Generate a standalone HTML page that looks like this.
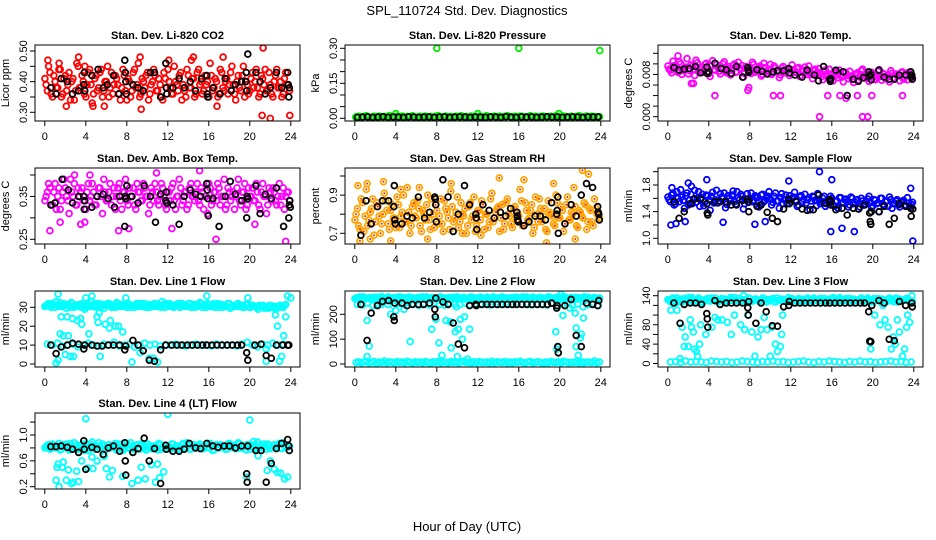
<!DOCTYPE html>
<html><head><meta charset="utf-8"><title>SPL_110724 Std. Dev. Diagnostics</title>
<style>
html,body{margin:0;padding:0;background:#fff;}
svg{display:block;font-family:"Liberation Sans",Arial,sans-serif;}
</style></head>
<body>
<svg id="chart" width="936" height="540" viewBox="0 0 936 540" xmlns="http://www.w3.org/2000/svg">
<text x="467" y="15" font-size="13" text-anchor="middle">SPL_110724  Std. Dev. Diagnostics</text>
<text x="467" y="531" font-size="13" text-anchor="middle">Hour of Day (UTC)</text>
</svg>
<script>
// ---------- data ----------
const xTicks = [0,4,8,12,16,20,24];
const panelTitles = ["Stan. Dev. Li-820 CO2","Stan. Dev. Li-820 Pressure","Stan. Dev. Li-820 Temp.","Stan. Dev. Amb. Box Temp.","Stan. Dev. Gas Stream RH","Stan. Dev. Sample Flow","Stan. Dev. Line 1 Flow","Stan. Dev. Line 2 Flow","Stan. Dev. Line 3 Flow","Stan. Dev. Line 4 (LT) Flow"];
const yTitles = ["Licor ppm","kPa","degrees C","degrees C","percent","ml/min","ml/min","ml/min","ml/min","ml/min"];

const co2Vals = [0.39,0.45,0.36,0.42,0.38,0.44,0.35,0.41,0.37,0.43,0.40,0.34,0.46,0.38,0.42,0.36,0.39,0.44,0.33,0.41,0.37,0.43,0.35,0.40,0.45,0.38,0.36,0.42,0.39,0.34,0.44,0.37,0.41,0.35,0.43,0.38,0.46,0.36,0.40,0.42,0.34,0.39,0.44,0.37,0.41,0.35,0.43,0.38,0.40,0.36,0.45,0.39,0.42,0.34,0.37,0.44,0.38,0.41,0.35,0.43,0.39,0.36,0.42,0.40,0.46,0.37,0.41,0.35,0.44,0.38,0.40,0.36,0.43,0.39,0.34,0.42,0.37,0.45,0.40,0.36,0.41,0.38,0.44,0.35,0.42,0.39,0.37,0.43,0.36,0.40,0.44,0.38,0.35,0.41,0.39,0.37];
const co2Vals2 = [0.41,0.37,0.43,0.35,0.40,0.38,0.44,0.36,0.42,0.39,0.34,0.41,0.37,0.45,0.38,0.40,0.35,0.43,0.39,0.36,0.42,0.38,0.44,0.37,0.40,0.35,0.43,0.39,0.41,0.36,0.38,0.42,0.34,0.40,0.37,0.44,0.39,0.35,0.41,0.38,0.43,0.36,0.40,0.42,0.37,0.39,0.34,0.41,0.44,0.38,0.36,0.40,0.37,0.43,0.39,0.35,0.42,0.38,0.41,0.36,0.44,0.40,0.37,0.39,0.35,0.42,0.38,0.40,0.36,0.43,0.37,0.41,0.39,0.45,0.36,0.40,0.38,0.42,0.35,0.39,0.37,0.43,0.40,0.38,0.36,0.41,0.44,0.37,0.39,0.35,0.42,0.38,0.40,0.36,0.43,0.39];
const co2OutT = [0.3,1.4,3.3,4.7,5.8,9.3,9.4,14.5,14.3,16.8,17.4,21.3,21.2,22.0,23.9,12.1,3.9,2.1];
const co2OutV = [0.47,0.46,0.48,0.32,0.32,0.48,0.31,0.48,0.47,0.32,0.48,0.51,0.29,0.28,0.29,0.47,0.45,0.32];
const co2BlkT = [0.6,1.1,1.6,2.2,2.7,3.3,3.8,3.85,3.9,4.6,5.2,5.7,6.1,6.7,7.2,7.8,7.85,7.9,7.95,8.6,9.1,9.6,10.3,10.7,11.3,11.8,11.85,11.9,12.5,13.1,13.6,14.2,14.7,15.3,15.8,15.85,15.9,16.4,17.1,17.6,18.2,18.6,19.2,19.6,19.65,19.7,19.8,20.6,21.0,21.5,22.0,22.6,23.1,23.7,23.75,23.8,23.85];
const co2BlkV = [0.38,0.36,0.41,0.40,0.36,0.37,0.39,0.43,0.37,0.42,0.44,0.38,0.39,0.42,0.36,0.47,0.43,0.40,0.36,0.39,0.38,0.37,0.43,0.43,0.35,0.46,0.38,0.36,0.38,0.41,0.38,0.40,0.37,0.41,0.42,0.36,0.35,0.38,0.36,0.41,0.37,0.39,0.40,0.40,0.43,0.37,0.49,0.43,0.40,0.36,0.38,0.43,0.38,0.43,0.39,0.35,0.38];

const presVals = [0.006,0.009,0.005,0.008,0.011,0.006,0.004,0.009,0.007,0.01,0.005,0.008,0.006,0.012,0.007,0.005,0.009,0.006,0.01,0.004,0.008,0.007,0.011,0.005,0.006,0.009,0.007,0.01,0.005,0.008,0.006,0.009,0.012,0.005,0.007,0.01,0.006,0.008,0.005,0.009,0.007,0.011,0.006,0.008,0.005,0.01,0.007,0.006,0.009,0.005,0.008,0.011,0.006,0.007,0.01,0.005,0.009,0.006,0.008,0.012,0.007,0.005,0.009,0.006,0.01,0.008,0.005,0.007,0.011,0.006,0.009,0.005,0.008,0.01,0.006,0.007,0.009,0.005,0.011,0.008,0.006,0.01,0.007,0.005,0.009,0.006,0.008,0.011,0.005,0.007,0.01,0.006,0.009,0.008,0.005,0.007];
const presOutT = [8.0,16.0,23.9,4.0,12.0,19.9,0.1];
const presOutV = [0.30,0.30,0.29,0.02,0.02,0.02,0.005];
const presBlkV = [0.004,0.005,0.006,0.004,0.005,0.007,0.004,0.006,0.005,0.004,0.006,0.005,0.004,0.005,0.006,0.004,0.005,0.006,0.004,0.005,0.006,0.005,0.004,0.006,0.005,0.004,0.006,0.005,0.004,0.007,0.005,0.004,0.006,0.005,0.006,0.004,0.005,0.007,0.005,0.006,0.004,0.005,0.006,0.005,0.004,0.006,0.005,0.006];

const tempVals = [0.0090,0.0083,0.0097,0.0086,0.0104,0.0080,0.0093,0.0110,0.0087,0.0095,0.0078,0.0102,0.0089,0.0084,0.0099,0.0092,0.0076,0.0106,0.0088,0.0094,0.0081,0.0100,0.0086,0.0091,0.0079,0.0097,0.0084,0.0103,0.0090,0.0075,0.0095,0.0087,0.0082,0.0099,0.0088,0.0093,0.0077,0.0101,0.0085,0.0090,0.0080,0.0096,0.0087,0.0074,0.0092,0.0083,0.0089,0.0078,0.0098,0.0084,0.0091,0.0076,0.0087,0.0094,0.0080,0.0085,0.0072,0.0090,0.0079,0.0083,0.0070,0.0088,0.0076,0.0081,0.0068,0.0085,0.0074,0.0079,0.0066,0.0083,0.0072,0.0077,0.0065,0.0081,0.0070,0.0087,0.0073,0.0078,0.0067,0.0084,0.0071,0.0076,0.0089,0.0069,0.0080,0.0074,0.0066,0.0082,0.0072,0.0078,0.0068,0.0085,0.0075,0.0070,0.0080,0.0073];
const tempVals2 = [0.0096,0.0088,0.0105,0.0091,0.0084,0.0100,0.0087,0.0094,0.0081,0.0098,0.0090,0.0107,0.0085,0.0093,0.0088,0.0101,0.0082,0.0096,0.0089,0.0099,0.0086,0.0092,0.0104,0.0083,0.0095,0.0088,0.0100,0.0085,0.0092,0.0097,0.0082,0.0090,0.0087,0.0103,0.0084,0.0091,0.0096,0.0080,0.0093,0.0088,0.0099,0.0083,0.0092,0.0086,0.0079,0.0095,0.0087,0.0091,0.0082,0.0089,0.0085,0.0093,0.0078,0.0088,0.0084,0.0096,0.0080,0.0087,0.0083,0.0091,0.0076,0.0085,0.0081,0.0090,0.0073,0.0082,0.0079,0.0088,0.0075,0.0084,0.0078,0.0086,0.0071,0.0080,0.0083,0.0075,0.0090,0.0078,0.0073,0.0084,0.0079,0.0070,0.0086,0.0076,0.0082,0.0072,0.0079,0.0087,0.0074,0.0081,0.0077,0.0083,0.0071,0.0079,0.0084,0.0076];
const tempOutT = [4.6,10.3,11.0,14.8,19.0,19.5,15.6,16.8,17.4,18.5,19.9,22.9,2.3,7.8,1.0,2.5,7.9];
const tempOutV = [0.004,0.004,0.004,0.0,0.0,0.0,0.004,0.004,0.0035,0.004,0.004,0.004,0.0063,0.005,0.0115,0.0063,0.0055];
const tempBlkT = [0.6,1.1,1.6,2.1,2.7,3.2,3.8,3.85,4.0,4.6,5.2,5.7,6.2,6.7,7.3,7.8,7.85,7.9,8.7,9.2,9.7,10.3,10.7,11.3,11.8,11.85,12.4,13.1,13.6,14.3,14.7,15.2,15.8,15.85,15.9,16.4,17.1,17.5,18.1,18.6,19.1,19.6,19.65,19.8,19.85,20.6,21.1,21.6,22.1,22.6,23.2,23.7,23.75,23.8,23.85];
const tempBlkV = [0.0093,0.0088,0.009,0.0091,0.0095,0.0083,0.0094,0.0082,0.0085,0.0101,0.0091,0.0089,0.0082,0.0095,0.0075,0.0093,0.0088,0.0084,0.0089,0.0086,0.0081,0.0085,0.0087,0.0087,0.0091,0.0083,0.0079,0.0075,0.0088,0.0079,0.0068,0.0095,0.0071,0.0067,0.0072,0.0088,0.0085,0.0040,0.0071,0.0067,0.0074,0.0085,0.0077,0.0080,0.0070,0.0088,0.0075,0.0071,0.0071,0.0079,0.0079,0.0085,0.0075,0.0079,0.0071];

const ambVals = [0.35,0.38,0.33,0.36,0.32,0.37,0.34,0.39,0.35,0.31,0.36,0.38,0.33,0.35,0.37,0.32,0.36,0.34,0.38,0.33,0.35,0.37,0.31,0.36,0.34,0.38,0.35,0.32,0.37,0.34,0.36,0.39,0.33,0.35,0.37,0.32,0.36,0.34,0.38,0.35,0.31,0.37,0.34,0.36,0.33,0.38,0.35,0.32,0.36,0.37,0.34,0.35,0.39,0.33,0.36,0.32,0.37,0.35,0.34,0.38,0.33,0.36,0.35,0.31,0.37,0.34,0.36,0.38,0.33,0.35,0.32,0.37,0.34,0.36,0.35,0.39,0.33,0.36,0.32,0.37,0.35,0.34,0.38,0.33,0.36,0.35,0.31,0.37,0.34,0.36,0.33,0.38,0.35,0.32,0.36,0.34];
const ambVals2 = [0.34,0.36,0.37,0.33,0.38,0.35,0.32,0.36,0.37,0.34,0.39,0.35,0.33,0.37,0.36,0.34,0.32,0.38,0.35,0.36,0.33,0.37,0.35,0.39,0.34,0.36,0.33,0.37,0.35,0.38,0.32,0.36,0.34,0.37,0.35,0.33,0.38,0.36,0.34,0.37,0.35,0.33,0.36,0.38,0.34,0.35,0.37,0.33,0.36,0.34,0.38,0.32,0.35,0.37,0.34,0.36,0.33,0.38,0.35,0.36,0.34,0.37,0.32,0.35,0.38,0.33,0.36,0.34,0.37,0.35,0.39,0.33,0.36,0.35,0.32,0.37,0.34,0.36,0.38,0.33,0.35,0.37,0.34,0.36,0.32,0.38,0.35,0.33,0.36,0.37,0.34,0.35,0.33,0.37,0.35,0.36];
const ambOutT = [0.5,1.5,2.9,3.5,7.2,8.2,12.4,16.7,23.5,15.1,20.5,10.9,3.9,4.4];
const ambOutV = [0.27,0.29,0.40,0.285,0.27,0.275,0.275,0.25,0.245,0.41,0.285,0.405,0.29,0.40];
const ambBlkT = [0.6,1.0,1.7,2.3,2.7,3.3,3.8,3.85,3.9,4.6,5.1,5.7,6.2,6.8,7.3,7.8,7.85,7.9,8.0,8.5,9.1,9.7,10.3,10.8,11.3,11.8,11.85,11.9,12.5,13.1,13.6,14.2,14.7,15.2,15.8,15.85,15.9,15.95,16.4,17.0,17.6,18.1,18.6,19.2,19.7,19.75,19.8,20.6,21.0,21.5,22.1,22.6,23.3,23.8,23.85,23.9,23.95];
const ambBlkV = [0.33,0.335,0.39,0.365,0.335,0.35,0.35,0.32,0.34,0.325,0.35,0.355,0.345,0.325,0.35,0.28,0.35,0.345,0.375,0.35,0.335,0.375,0.35,0.29,0.355,0.34,0.36,0.335,0.33,0.285,0.35,0.365,0.355,0.35,0.38,0.365,0.345,0.305,0.345,0.28,0.35,0.385,0.355,0.34,0.30,0.35,0.345,0.375,0.31,0.355,0.345,0.37,0.28,0.30,0.33,0.34,0.325];

const rhVals = [0.80,0.74,0.88,0.71,0.93,0.77,0.83,0.69,0.86,0.79,0.75,0.91,0.82,0.72,0.85,0.78,0.89,0.73,0.81,0.76,0.94,0.70,0.84,0.79,0.87,0.74,0.82,0.77,0.90,0.72,0.80,0.85,0.75,0.88,0.71,0.83,0.78,0.92,0.76,0.81,0.73,0.86,0.79,0.70,0.84,0.77,0.89,0.74,0.82,0.87,0.72,0.80,0.76,0.91,0.78,0.83,0.71,0.85,0.75,0.88,0.79,0.73,0.84,0.81,0.93,0.74,0.86,0.77,0.82,0.70,0.89,0.76,0.83,0.79,0.72,0.87,0.80,0.75,0.90,0.78,0.84,0.71,0.85,0.77,0.81,0.94,0.74,0.82,0.79,0.86,0.72,0.83,0.76,0.88,0.80,0.78];
const rhVals2 = [0.77,0.83,0.72,0.86,0.79,0.74,0.81,0.88,0.76,0.84,0.70,0.80,0.87,0.75,0.82,0.78,0.73,0.85,0.79,0.90,0.76,0.81,0.74,0.86,0.78,0.83,0.71,0.80,0.85,0.77,0.88,0.73,0.82,0.79,0.75,0.87,0.81,0.72,0.84,0.78,0.89,0.76,0.80,0.83,0.74,0.86,0.79,0.71,0.82,0.77,0.85,0.80,0.73,0.88,0.76,0.81,0.84,0.78,0.72,0.86,0.80,0.75,0.83,0.77,0.79,0.87,0.74,0.82,0.78,0.85,0.73,0.80,0.88,0.76,0.83,0.71,0.81,0.79,0.74,0.86,0.78,0.82,0.75,0.89,0.77,0.80,0.84,0.73,0.81,0.78,0.85,0.76,0.82,0.74,0.83,0.79];
const rhOutT = [0.3,0.5,1.2,1.5,2.8,3.5,6.3,7.1,9.4,10.5,14.1,16.5,18.7,19.4,21.5,22.2,22.8,4.5,12.3];
const rhOutV = [0.95,0.66,0.96,0.67,0.97,0.66,0.94,0.67,0.96,0.70,0.99,0.98,0.65,0.96,0.67,1.03,1.01,0.93,0.69];
const rhBlkT = [0.6,1.1,1.6,2.2,2.7,3.3,3.8,3.85,3.9,3.95,4.6,5.1,5.6,6.2,6.8,7.3,7.8,7.85,7.9,7.95,8.6,9.1,9.6,10.1,10.7,11.2,11.8,11.85,11.9,12.5,13.1,13.6,14.2,14.7,15.2,15.8,15.85,15.9,15.95,16.5,17.0,17.6,18.1,18.6,19.2,19.7,19.75,19.8,19.85,20.5,21.1,21.6,22.1,22.6,23.2,23.7,23.75,23.8,23.85];
const rhBlkV = [0.69,0.87,0.75,0.84,0.87,0.87,0.84,0.95,0.77,0.75,0.75,0.79,0.78,0.89,0.78,0.81,0.89,0.88,0.85,0.76,0.98,0.89,0.71,0.80,0.95,0.85,0.80,0.78,0.72,0.85,0.82,0.78,0.81,0.79,0.83,0.81,0.79,0.77,0.76,0.74,0.76,0.79,0.79,0.77,0.86,0.80,0.82,0.89,0.70,0.75,0.85,0.79,0.90,0.96,0.94,0.84,0.81,0.80,0.77];

const flowVals = [1.58,1.65,1.50,1.70,1.55,1.62,1.45,1.68,1.57,1.52,1.72,1.60,1.48,1.66,1.55,1.63,1.42,1.69,1.58,1.53,1.67,1.60,1.46,1.64,1.56,1.71,1.51,1.61,1.66,1.44,1.59,1.54,1.68,1.57,1.62,1.47,1.65,1.55,1.60,1.70,1.50,1.63,1.56,1.45,1.67,1.58,1.52,1.64,1.60,1.69,1.48,1.62,1.55,1.66,1.58,1.43,1.63,1.57,1.67,1.52,1.60,1.48,1.58,1.63,1.50,1.56,1.45,1.61,1.54,1.59,1.47,1.62,1.52,1.57,1.44,1.60,1.50,1.55,1.63,1.46,1.58,1.52,1.40,1.60,1.49,1.56,1.62,1.45,1.53,1.58,1.47,1.55,1.50,1.61,1.48,1.54];
const flowVals2 = [1.62,1.55,1.68,1.52,1.60,1.73,1.57,1.64,1.50,1.66,1.59,1.54,1.70,1.61,1.49,1.65,1.58,1.63,1.53,1.72,1.56,1.62,1.68,1.51,1.60,1.65,1.55,1.70,1.58,1.63,1.52,1.67,1.59,1.55,1.64,1.61,1.50,1.66,1.57,1.63,1.59,1.54,1.68,1.56,1.61,1.52,1.65,1.58,1.55,1.62,1.57,1.50,1.64,1.59,1.53,1.61,1.56,1.62,1.49,1.58,1.55,1.63,1.52,1.57,1.60,1.48,1.56,1.61,1.53,1.58,1.55,1.50,1.60,1.54,1.58,1.47,1.56,1.52,1.59,1.54,1.49,1.57,1.53,1.60,1.51,1.55,1.48,1.58,1.52,1.56,1.50,1.54,1.57,1.49,1.53,1.51];
const flowOutT = [0.3,0.8,1.7,2.0,3.8,5.4,8.5,9.5,11.8,14.8,15.9,16.0,17.0,18.2,23.9,23.7,0.4,2.3];
const flowOutV = [1.2,1.22,1.25,1.83,1.88,1.24,1.21,1.25,1.86,2.0,1.1,1.88,1.15,1.1,0.96,1.75,1.76,1.78];
const flowBlkT = [0.6,1.1,1.6,2.2,2.6,3.2,3.8,3.85,3.9,4.6,5.1,5.6,6.2,6.7,7.3,7.8,7.85,7.9,8.7,9.1,9.7,10.2,10.7,11.3,11.8,11.85,12.5,13.1,13.6,14.2,14.7,15.3,15.8,15.85,15.9,16.4,17.0,17.5,18.1,18.6,19.2,19.7,19.75,19.8,19.85,20.6,21.1,21.6,22.1,22.6,23.2,23.7,23.75,23.9];
const flowBlkV = [1.55,1.3,1.4,1.52,1.59,1.59,1.52,1.38,1.35,1.55,1.55,1.55,1.5,1.5,1.57,1.59,1.55,1.4,1.48,1.5,1.39,1.3,1.25,1.44,1.58,1.52,1.55,1.44,1.42,1.43,1.65,1.53,1.58,1.55,1.5,1.43,1.45,1.35,1.45,1.44,1.5,1.38,1.25,1.21,1.4,1.4,1.48,1.21,1.3,1.52,1.48,1.45,1.33,1.44];

const l1Hi = [31,32,30,31.5,33,30.5,31,32,29.5,31,32.5,30,31,31.5,30,32,31,30.5,33,31,30,32,31,29.5,31.5,32,30,31,32.5,30.5,31,32,30,31.5,31,30,32,31,30.5,32,31,30,31.5,32,30.5,31,33,30,31,32,30.5,31,31.5,30,32,31,30.5,32,31,30,31.5,32.5,30,31,32,30.5,31,30,32,31.5,30,31,32,29.5,31,30.5,32,31,30,31.5,32,30,31,30.5,29,30.5,31,30,29.5,31,30,29,30.5,31,30,31.5];
const l1Hi2 = [30.5,31.5,31,32,30,31,32.5,30.5,31,31.5,30,32,31,30.5,31.5,32,30,31,31.5,30.5,32,31,30,31.5,31,32,30.5,31,30,32,31.5,30.5,31,32,30,31,31.5,30.5,32,31,30,31.5,31,30.5,32,31,30,31.5,32,30.5,31,30,31.5,32,31,30.5,31,32,30,31.5,31,30.5,32,31,30,31.5,30.5,32,31,30,31.5,31,30.5,32,30,31,31.5,30.5,31,30,31.5,30,31,30.5,30,31,30.5,29.5,30,31,30,30.5,29.5,31,30,31];
const l1Lo = [10.5,10,11,9.5,10,10.5,9,10,11,10,9.5,10.5,10,11.5,9.5,10,10.5,9,10,11,10,10.5,9.5,10,10,10.5,10,9.5,10,10.5,10,10,9.5,10.5,10,10,10,9.5,10.5,11.5,10,9,10.5,10,11,10,10.5,10];
const l1OutT = [1.3,1.5,1.6,1.8,2.2,2.3,2.7,3.2,3.5,3.6,3.9,4.0,4.3,4.6,5.1,5.2,5.3,5.4,5.9,6.3,6.4,6.9,7.2,7.6,7.9,1.1,1.3,2.0,2.5,2.8,8.5,9.3,10.2,10.6,15.8,19.8,21.6,22.5,22.7,22.9,23.1,23.3,23.5,23.7,24.0,21.6,11.0];
const l1OutV = [37,16,25,15,25,15,24,23,24,21,29,35,16,36,25,22,27,4,21,19,23,20,20,17,35,0.5,2,5,4,4,1,6,3,3,36,35,1.5,26,20,1.5,4,15,25,36,35,8,1];
const l1BlkT = [0.6,1.1,1.6,2.2,2.7,3.3,3.8,3.9,4.6,5.1,5.6,6.2,6.7,7.3,7.8,7.9,8.6,9.1,9.6,10.2,10.7,11.3,11.8,12.4,12.9,13.4,13.9,14.4,14.9,15.4,15.8,16.3,16.8,17.3,17.8,18.3,18.8,19.2,19.7,19.8,20.5,21.1,21.6,22.1,22.6,23.2,23.7,23.8];
const l1BlkV = [10,5.5,9,10,11,10.5,8,10,10,9.5,9.5,10,10,10,7.5,9.5,12.5,10,7,2,1.5,7.5,10,10,10,10,10,10,10,10,10,10,10,10,10,10,10,10,6,2,10,10.5,4.5,3,10,10,10,10];

const l2Hi = [265,268,262,270,264,266,260,269,265,263,271,266,262,268,265,261,267,270,264,266,263,269,265,262,267,264,270,266,261,265,268,263,266,270,264,262,267,265,269,263,266,264,268,261,265,270,266,263,267,265,262,269,264,266,268,263,265,270,262,266,264,268,265,261,267,270,263,266,264,269,265,262,268,264,266,270,263,265,267,262,269,264,266,263,268,265,261,267,264,270,266,262,265,268,264,266];
const l2Hi2 = [263,267,270,261,266,264,268,262,265,269,263,267,264,270,262,266,268,264,261,267,265,269,263,266,262,268,265,264,270,263,267,261,266,269,264,265,262,268,266,263,270,264,267,262,265,268,264,266,263,269,261,265,267,263,270,264,266,262,268,265,263,267,264,269,262,266,265,270,263,267,264,261,268,265,263,266,269,264,262,267,265,263,270,264,266,262,268,265,263,267,264,269,262,266,265,263];
const l2Mid = [240,238,245,236,242,248,240,235,244,239,247,241,236,243,238,246,240,237,244,241,239,246,238,242,240,243,238,241,240,244,239,242,240,243,238,241,240,237,244,232,239,245,236,242,230,238,244,236];
const l2Lo = [6,9,4,8,11,5,7,10,3,8,6,12,5,9,7,4,10,6,8,5,11,7,4,9,6,8,5,10,7,3,9,6,11,5,8,7,4,10,6,9,5,8,12,6,7,4,9,5,10,7,6,8,4,11,5,9,7,6,10,4,8,5,9,7,11,6,4,8,10,5,7,9,6,3,8,5,10,7,6,9,4,11,8,5,7,6,10,4,9,5,8,7,6,12,5,8];
const l2OutT = [1.2,1.4,1.2,3.5,4.0,5.4,7.5,7.9,8.2,8.5,8.9,9.3,9.4,9.8,10.0,10.1,10.3,10.5,10.7,11.0,11.2,19.6,19.7,20.3,21.0,21.5,21.6,21.6,21.8,22.0,22.1,22.3,20.1,9.9,4.8,2.6];
const l2OutV = [175,72,30,200,215,90,140,180,85,35,175,170,65,130,30,140,180,100,190,20,140,130,60,195,225,205,145,70,35,105,120,185,280,230,220,240];
const l2BlkT = [0.6,1.2,1.6,2.2,2.7,3.3,3.8,3.85,3.9,4.6,5.1,5.6,6.2,6.7,7.3,7.8,7.85,7.9,8.6,9.1,9.6,10.1,10.7,11.2,11.8,11.85,12.4,12.9,13.4,13.9,14.4,14.9,15.4,15.8,16.3,16.8,17.3,17.8,18.3,18.8,19.2,19.7,19.75,19.8,19.85,20.5,21.1,21.6,22.1,22.6,23.2,23.7,23.8];
const l2BlkV = [240,95,205,235,252,255,190,175,245,245,235,240,240,240,245,220,190,265,250,240,165,80,65,235,240,235,240,240,240,240,240,240,240,240,240,240,240,240,240,240,245,225,235,70,45,235,260,115,70,245,240,235,255];

const l3Hi = [130,133,128,135,131,127,134,129,132,136,128,131,133,126,130,134,129,132,135,127,131,130,133,128,136,131,129,134,127,132,130,135,128,131,133,129,130,134,127,132,131,128,135,130,133,129,127,132,134,130,128,131,133,129,135,130,127,132,131,134,128,130,133,129,136,131,128,132,130,134,127,131,133,129,130,135,128,132,131,127,134,130,129,133,131,128,135,130,132,127,133,129,131,134,130,128];
const l3Hi2 = [132,128,135,130,127,133,131,129,136,128,132,130,134,127,131,133,129,135,130,128,132,134,127,131,129,133,136,130,128,132,131,127,134,129,133,130,128,135,131,132,129,134,127,130,133,131,128,136,130,132,129,134,128,131,133,127,130,135,132,129,131,134,128,130,133,127,132,136,129,131,130,134,128,132,129,133,127,131,135,130,128,132,134,129,131,127,133,130,128,135,132,129,131,134,130,127];
const l3Lo = [3,4,2,5,3,4,3,2,5,4,3,4,2,3,5,4,3,2,4,3,5,3,4,2,3,4,5,3,2,4,3,5,4,3,2,4,3,5,3,4,2,3,4,5,3,4,2,3];
const l3OutT = [0.9,1.2,1.4,1.6,1.7,2.0,2.2,2.3,2.5,2.6,2.8,2.9,3.1,3.2,3.7,4.3,4.6,4.9,5.3,5.8,6.2,6.5,7.1,7.5,7.8,8.2,8.5,8.8,9.1,9.4,9.7,10.0,10.2,10.5,10.7,11.0,11.1,11.2,19.7,19.8,20.2,20.7,21.0,21.2,21.5,21.8,22.0,22.2,22.4,22.6,22.9,23.1,23.3,23.4,23.6,23.8,0.3,7.4,3.0];
const l3OutV = [110,10,75,35,55,35,90,75,65,30,25,15,40,80,60,75,95,90,90,85,60,100,80,70,100,65,15,55,70,95,70,15,75,40,25,35,60,100,45,30,100,80,120,90,75,30,55,40,90,65,15,30,75,100,85,140,110,140,135];
const l3BlkT = [0.6,1.2,1.6,2.2,2.7,3.3,3.8,3.85,3.9,4.6,5.1,5.7,6.2,6.7,7.3,7.8,7.85,7.9,8.6,9.1,9.6,10.2,10.7,11.3,11.8,11.85,12.4,12.9,13.4,13.9,14.4,14.9,15.4,15.8,16.3,16.8,17.3,17.8,18.3,18.8,19.2,19.6,19.7,19.8,19.9,20.6,21.1,21.6,22.1,22.6,23.2,23.8,23.85];
const l3BlkV = [125,83,122,125,125,122,103,92,75,130,122,125,125,125,125,115,100,128,83,125,107,78,77,117,120,128,125,125,125,125,125,125,125,125,125,125,125,125,125,125,125,107,46,45,120,130,125,50,47,128,120,125,117];

const l4Vals = [0.82,0.85,0.79,0.84,0.80,0.87,0.78,0.83,0.86,0.77,0.82,0.88,0.79,0.84,0.81,0.76,0.85,0.80,0.89,0.78,0.83,0.81,0.86,0.77,0.84,0.80,0.82,0.87,0.79,0.85,0.76,0.83,0.81,0.88,0.78,0.84,0.80,0.86,0.82,0.77,0.85,0.79,0.83,0.81,0.87,0.78,0.84,0.80,0.82,0.86,0.79,0.83,0.77,0.85,0.81,0.88,0.78,0.84,0.80,0.82,0.86,0.79,0.83,0.81,0.87,0.76,0.84,0.80,0.85,0.82,0.78,0.86,0.81,0.83,0.79,0.88,0.80,0.84,0.77,0.85,0.82,0.90,0.79,0.84,0.81,0.86,0.78,0.83,0.80,0.85,0.82,0.87,0.79,0.84,0.81,0.83];
const l4Vals2 = [0.80,0.84,0.78,0.86,0.81,0.83,0.77,0.85,0.82,0.79,0.87,0.80,0.84,0.78,0.83,0.86,0.81,0.76,0.85,0.82,0.79,0.88,0.80,0.83,0.78,0.85,0.81,0.84,0.77,0.86,0.82,0.80,0.87,0.79,0.83,0.81,0.85,0.78,0.84,0.80,0.86,0.82,0.79,0.83,0.77,0.85,0.81,0.84,0.80,0.78,0.86,0.82,0.83,0.79,0.87,0.81,0.84,0.78,0.85,0.80,0.83,0.82,0.79,0.86,0.81,0.84,0.77,0.85,0.80,0.83,0.82,0.78,0.87,0.81,0.84,0.79,0.86,0.80,0.83,0.85,0.78,0.84,0.81,0.89,0.80,0.83,0.82,0.86,0.79,0.84,0.81,0.85,0.80,0.88,0.82,0.84];
const l4OutT = [1.1,1.2,1.3,1.4,1.7,1.8,2.1,2.3,2.6,2.8,3.1,3.3,3.6,4.0,4.2,4.6,4.7,5.1,5.8,6.0,6.3,6.6,7.6,8.5,9.1,9.4,9.8,10.4,10.8,11.0,11.2,11.6,12.0,19.7,20.0,21.7,22.0,22.4,22.7,23.0,23.4,23.7,20.8];
const l4OutV = [0.3,0.5,0.55,0.2,0.5,0.58,0.3,0.46,0.25,0.27,0.44,0.28,0.6,1.25,0.49,0.66,0.48,0.6,0.67,0.48,0.35,0.45,0.36,0.25,0.3,0.5,0.32,0.54,0.27,0.55,0.34,0.43,1.32,0.35,1.23,0.45,0.6,0.47,0.42,0.41,0.32,0.35,0.68];
const l4BlkT = [0.6,1.1,1.6,2.2,2.7,3.3,3.8,3.85,4.0,4.6,5.1,5.7,6.2,6.7,7.3,7.8,7.85,7.9,8.6,9.1,9.7,10.2,10.7,11.3,11.8,11.85,12.5,13.1,13.6,14.1,14.7,15.2,15.8,16.4,16.9,17.5,18.0,18.6,19.2,19.7,19.75,19.8,20.6,21.1,21.6,22.1,22.6,23.1,23.7,23.8,23.85];
const l4BlkV = [0.82,0.82,0.83,0.81,0.78,0.73,0.91,0.78,0.47,0.81,0.78,0.70,0.80,0.83,0.75,0.88,0.60,0.38,0.73,0.79,0.95,0.60,0.79,0.25,0.84,0.78,0.75,0.75,0.78,0.87,0.80,0.79,0.87,0.83,0.81,0.83,0.83,0.80,0.83,0.40,0.27,0.83,0.76,0.76,0.27,0.56,0.79,0.87,0.93,0.83,0.76];

const yTicks1 = [0.30,0.35,0.40,0.45,0.50];     const yLab1 = ["0.30","","0.40","","0.50"];
const yTicks2 = [0,0.05,0.10,0.15,0.20,0.25,0.30]; const yLab2 = ["0.00","","","0.15","","","0.30"];
const yTicks3 = [0,0.002,0.004,0.006,0.008,0.010,0.012]; const yLab3 = ["0.000","","","","0.008","",""];
const yTicks4 = [0.25,0.30,0.35,0.40];          const yLab4 = ["0.25","","0.35",""];
const yTicks5 = [0.7,0.8,0.9,1.0];              const yLab5 = ["0.7","","0.9",""];
const yTicks6 = [1.0,1.2,1.4,1.6,1.8,2.0];      const yLab6 = ["1.0","","1.4","","1.8",""];
const yTicks7 = [0,10,20,30];                   const yLab7 = ["0","10","20","30"];
const yTicks8 = [0,100,200];                    const yLab8 = ["0","100","200"];
const yTicks9 = [0,20,40,60,80,100,120,140];    const yLab9 = ["0","","40","","80","","","140"];
const yTicks10 = [0.2,0.4,0.6,0.8,1.0,1.2];     const yLab10 = ["0.2","","0.6","","1.0",""];

// ---------- layout (not data) ----------
const NS = "http://www.w3.org/2000/svg";
const svg = document.getElementById("chart");
const colL = [35,345,658], boxW = 265, rowT = [45,168,291,413], boxH = 76;
const yCal = [[0.50,6,0.30,67.3],[0.30,3.3,0,73.3],[0.012,8.3,0,71.7],[0.40,7,0.25,71.3],[1.0,8,0.7,65.3],
  [1.8,17,1.0,70.3],[30,16.3,0,73],[200,23.3,0,73],[140,4.7,0,72.5],[1.0,22,0.2,73.7]];

function mk(tag, attrs, parent){ const e=document.createElementNS(NS,tag); for(const k in attrs) e.setAttribute(k,attrs[k]); (parent||svg).appendChild(e); return e; }
function regT(n){ const a=[]; for(let i=0;i<n;i++) a.push((i+0.5)*24/n); return a; }
function regT2(n){ const a=[]; for(let i=0;i<n;i++) a.push((i+0.02)*24/n); return a; }

const panels = [
 {series:[{t:regT(co2Vals.length),v:co2Vals,c:"#ff0000"},{t:regT2(co2Vals2.length),v:co2Vals2,c:"#ff0000"},{t:co2OutT,v:co2OutV,c:"#ff0000"},{t:co2BlkT,v:co2BlkV,c:"#000"}],yt:yTicks1,yl:yLab1},
 {series:[{t:regT(presVals.length),v:presVals,c:"#00ee00"},{t:presOutT,v:presOutV,c:"#00ee00"},{t:regT(presBlkV.length),v:presBlkV,c:"#000"}],yt:yTicks2,yl:yLab2},
 {series:[{t:regT(tempVals.length),v:tempVals,c:"#ff00ff"},{t:regT2(tempVals2.length),v:tempVals2,c:"#ff00ff"},{t:tempOutT,v:tempOutV,c:"#ff00ff"},{t:tempBlkT,v:tempBlkV,c:"#000"}],yt:yTicks3,yl:yLab3},
 {series:[{t:regT(ambVals.length),v:ambVals,c:"#ff00ff"},{t:regT2(ambVals2.length),v:ambVals2,c:"#ff00ff"},{t:ambOutT,v:ambOutV,c:"#ff00ff"},{t:ambBlkT,v:ambBlkV,c:"#000"}],yt:yTicks4,yl:yLab4},
 {series:[{t:regT(rhVals.length),v:rhVals,c:"#ffa500",dot:"#ff2000"},{t:regT2(rhVals2.length),v:rhVals2,c:"#ffa500",dot:"#ff2000"},{t:rhOutT,v:rhOutV,c:"#ffa500",dot:"#ff2000"},{t:rhBlkT,v:rhBlkV,c:"#000"}],yt:yTicks5,yl:yLab5},
 {series:[{t:regT(flowVals.length),v:flowVals,c:"#0000ff"},{t:regT2(flowVals2.length),v:flowVals2,c:"#0000ff"},{t:flowOutT,v:flowOutV,c:"#0000ff"},{t:flowBlkT,v:flowBlkV,c:"#000"}],yt:yTicks6,yl:yLab6},
 {series:[{t:regT(l1Hi.length).map(x=>x*0.985),v:l1Hi,c:"#00ffff"},{t:regT2(l1Hi2.length).map(x=>x*0.985),v:l1Hi2,c:"#00ffff"},{t:regT(l1Lo.length),v:l1Lo,c:"#00ffff"},{t:l1OutT,v:l1OutV,c:"#00ffff"},{t:l1BlkT,v:l1BlkV,c:"#000"}],yt:yTicks7,yl:yLab7},
 {series:[{t:regT(l2Hi.length),v:l2Hi,c:"#00ffff"},{t:regT2(l2Hi2.length),v:l2Hi2,c:"#00ffff"},{t:regT(l2Mid.length),v:l2Mid,c:"#00ffff"},{t:regT(l2Lo.length),v:l2Lo,c:"#00ffff"},{t:l2OutT,v:l2OutV,c:"#00ffff"},{t:l2BlkT,v:l2BlkV,c:"#000"}],yt:yTicks8,yl:yLab8},
 {series:[{t:regT(l3Hi.length),v:l3Hi,c:"#00ffff"},{t:regT2(l3Hi2.length),v:l3Hi2,c:"#00ffff"},{t:regT(l3Lo.length),v:l3Lo,c:"#00ffff"},{t:l3OutT,v:l3OutV,c:"#00ffff"},{t:l3BlkT,v:l3BlkV,c:"#000"}],yt:yTicks9,yl:yLab9},
 {series:[{t:regT(l4Vals.length),v:l4Vals,c:"#00ffff"},{t:regT2(l4Vals2.length),v:l4Vals2,c:"#00ffff"},{t:l4OutT,v:l4OutV,c:"#00ffff"},{t:l4BlkT,v:l4BlkV,c:"#000"}],yt:yTicks10,yl:yLab10}
];

panels.forEach((p,idx)=>{
  const L = colL[idx%3], T = rowT[Math.floor(idx/3)];
  const x0 = L+9.8, xs = 246/24;
  const cal = yCal[idx];
  const k = (cal[3]-cal[1])/(cal[2]-cal[0]);
  const xMap = t => x0 + t*xs;
  const yMap = v => T + cal[1] + (v-cal[0])*k;
  const g = mk("g",{});
  
  
  const title = mk("text",{x:L+boxW/2,y:T-6,"font-size":"11","font-weight":"bold","text-anchor":"middle"},g);
  title.textContent = panelTitles[idx];
  
  
  const yt = mk("text",{x:0,y:0,"font-size":"11","text-anchor":"middle",transform:`translate(${L-26},${T+boxH/2}) rotate(-90)`},g);
  yt.textContent = yTitles[idx];
  
  
  const clipId = "clip"+idx;
  const cp = mk("clipPath",{id:clipId},g); mk("rect",{x:L,y:T,width:boxW,height:boxH},cp);
  const pts = mk("g",{"clip-path":`url(#${clipId})`},g);
  
  
  p.series.forEach(s=>{
    const n = Math.min(s.t.length, s.v.length);
    for(let i=0;i<n;i++){
      const c = mk("circle",{cx:xMap(s.t[i]).toFixed(1),cy:yMap(s.v[i]).toFixed(1),r:2.9,fill:"none",stroke:s.c,"stroke-width":1.8},pts);
      
      
      if(s.dot){ mk("circle",{cx:xMap(s.t[i]).toFixed(1),cy:yMap(s.v[i]).toFixed(1),r:1,fill:s.dot},pts); }
    }
  });
  const box = mk("rect",{x:L,y:T,width:boxW,height:boxH,fill:"none",stroke:"#000","stroke-width":1},g);
  
  
  xTicks.forEach(t=>{
    const x = xMap(t);
    mk("line",{x1:x,y1:T+boxH,x2:x,y2:T+boxH+5,stroke:"#000","stroke-width":1},g);
    const lb = mk("text",{x:x,y:T+boxH+19,"font-size":"11","text-anchor":"middle"},g);
    lb.textContent = String(t);
    
    
  });
  p.yt.forEach((v,i)=>{
    const y = yMap(v);
    mk("line",{x1:L-5,y1:y,x2:L,y2:y,stroke:"#000","stroke-width":1},g);
    if(p.yl[i]){
      const lb = mk("text",{x:0,y:0,"font-size":"11","text-anchor":"middle",transform:`translate(${L-8},${y}) rotate(-90)`},g);
      lb.textContent = p.yl[i];
      
      
    }
  });
});
</script>
</body></html>
